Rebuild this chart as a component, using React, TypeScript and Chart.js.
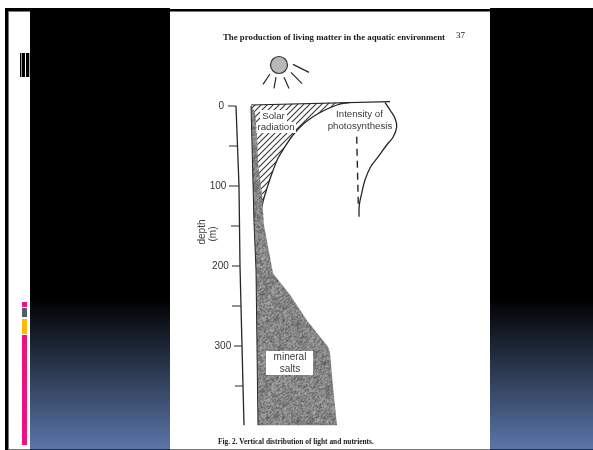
import React, { useEffect, useRef } from "react";
import { Chart, registerables } from "chart.js";

Chart.register(...registerables);

// Horizontal values are relative intensity units; depth is in metres.
const depthTicks = [0, 100, 200, 300];

const axisX = [-1, 2, 3, 5, 7];
const axisDepth = [0, 100, 200, 300, 399];

const majorDepth = [0, 100, 200, 300];
const majorFrom = [-9, -8, -5, -3];
const majorTo = [-1, 2, 3, 5];
const minorDepth = [50, 150, 250, 350];
const minorFrom = [-8, -6, -5, -2];
const minorTo = [0.5, 2, 4, 6];

const surfaceX = [14, 153];
const surfaceDepth = [-1.25, -5.4];

const solarX = [14, 113, 100, 88, 76, 66, 56, 48, 41, 35, 30, 26, 23, 21];
const solarDepth = [-1.25, -4.6, -1.25, 5, 13.4, 22.9, 36.25, 50.9, 65.4, 84.1, 102.9, 119.6, 140, 158];

const photoX = [148, 153, 158, 159.7, 156.3, 149.7, 141.3, 133.7, 128, 124.7, 122.3, 122];
const photoDepth = [-4.6, 5, 15.4, 25.9, 38.4, 48.75, 63.4, 75.9, 92.5, 109.1, 123.75, 138.4];

const photoDashX = [119.7, 121.3];
const photoDashDepth = [38.4, 124];

const mineralX = [14, 18, 20, 21, 25, 27, 36, 53, 70, 91, 93, 96, 100, 21, 19, 17];
const mineralDepth = [0, 7.5, 36, 70, 111, 149, 209, 236, 268, 301, 308, 351, 399, 399, 205, 146];

const bottleEdgeX = [14, 17, 19, 21];
const bottleEdgeDepth = [0, 146, 205, 399];

const sunX = [42];
const sunDepth = [-51.25];
const rayFromX = [56, 54, 47, 39, 33];
const rayFromDepth = [-52, -42, -36, -36, -40];
const rayToX = [72, 65, 52, 37, 26];
const rayToDepth = [-42, -28, -22, -22, -27];

const titleText = "The production of living matter in the aquatic environment";
const pageNumber = "37";
const captionText = "Fig. 2. Vertical distribution of light and nutrients.";

const xy = (xs: number[], ys: number[]) => xs.map((x, i) => ({ x, y: ys[i] }));
const segments = (ax: number[], ay: number[], bx: number[], by: number[]) =>
  ax.flatMap((x, i) => [
    { x, y: ay[i] },
    { x: bx[i], y: by[i] },
    { x: NaN, y: NaN },
  ]);

function hatchPattern(ctx: CanvasRenderingContext2D) {
  const c = document.createElement("canvas");
  c.width = 6;
  c.height = 6;
  const g = c.getContext("2d")!;
  g.fillStyle = "#fff";
  g.fillRect(0, 0, 6, 6);
  g.strokeStyle = "#3a3a3a";
  g.lineWidth = 1.15;
  g.beginPath();
  g.moveTo(-1, 7);
  g.lineTo(7, -1);
  g.moveTo(-1, 1);
  g.lineTo(1, -1);
  g.moveTo(5, 7);
  g.lineTo(7, 5);
  g.stroke();
  return ctx.createPattern(c, "repeat")!;
}

function stipplePattern(ctx: CanvasRenderingContext2D) {
  const size = 97;
  const c = document.createElement("canvas");
  c.width = size;
  c.height = size;
  const g = c.getContext("2d")!;
  const img = g.createImageData(size, size);
  const hash = (i: number, j: number) => {
    const s = Math.sin(i * 127.1 + j * 311.7) * 43758.5453;
    return s - Math.floor(s);
  };
  for (let j = 0; j < size; j++) {
    for (let i = 0; i < size; i++) {
      const fine = (hash(i, j) + hash(i + 1, j) + hash(i, j + 1)) / 3;
      const coarse = hash(Math.floor(i / 6), Math.floor(j / 5) + 50);
      const v = 82 + fine * 90 + coarse * 12;
      const o = (j * size + i) * 4;
      img.data[o] = v;
      img.data[o + 1] = v;
      img.data[o + 2] = v;
      img.data[o + 3] = 255;
    }
  }
  g.putImageData(img, 0, 0);
  return ctx.createPattern(c, "repeat")!;
}

const slidePlugin = {
  id: "slide",
  afterLayout(chart: any) {
    // The scanned axis leans slightly, so its labels drift right with depth.
    chart.scales.y.getLabelItems().forEach((item: any, i: number) => {
      item.options.translation[0] += depthTicks[i] * 0.024;
    });
  },
  beforeDraw(chart: any) {
    const c: CanvasRenderingContext2D = chart.ctx;
    c.save();
    c.fillStyle = "#fff";
    c.fillRect(0, 0, 593, 450);
    const grad = c.createLinearGradient(0, 298, 0, 449);
    grad.addColorStop(0, "#000");
    grad.addColorStop(1, "#5a75a8");
    c.fillStyle = grad;
    c.fillRect(30, 8, 140, 441);
    c.fillRect(490, 8, 103, 441);
    c.fillStyle = "#1f2f4a";
    c.fillRect(30, 449, 140, 1);
    c.fillRect(490, 449, 103, 1);
    c.fillStyle = "#000";
    c.fillRect(5, 8, 25, 3);
    c.fillRect(5, 8, 3, 442);
    c.fillRect(170, 9, 320, 2);
    c.fillStyle = "#777";
    c.fillRect(8, 11, 22, 1);
    c.fillRect(8, 11, 1, 439);
    c.fillRect(170, 11, 320, 1);
    c.fillRect(8, 449, 22, 1);
    c.fillRect(170, 449, 320, 1);
    c.fillStyle = "#000";
    c.fillRect(20, 53, 1.4, 24);
    c.fillRect(22, 53, 3, 24);
    c.fillRect(26, 53, 3.3, 24);
    c.fillStyle = "#ec1380";
    c.fillRect(22, 302, 5, 5);
    c.fillRect(22, 335, 5, 110);
    c.fillStyle = "#4e5d70";
    c.fillRect(22, 308, 5, 9);
    c.fillStyle = "#ffb900";
    c.fillRect(22, 319, 5, 15);
    c.restore();
  },
  afterDraw(chart: any) {
    const c: CanvasRenderingContext2D = chart.ctx;
    c.save();
    c.textBaseline = "middle";
    c.textAlign = "center";

    c.fillStyle = "#fff";
    c.fillRect(260, 110, 27, 13);
    c.fillRect(256.5, 122, 39.5, 11);
    c.fillRect(266, 351, 47, 24);

    c.fillStyle = "#3a3a3a";
    c.font = '9.7px "Liberation Sans"';
    c.fillText("Solar", 273.5, 116);
    c.fillText("radiation", 276, 127.5);
    c.fillText("Intensity of", 359.5, 114.5);
    c.fillText("photosynthesis", 360, 126.5);
    c.font = '10px "Liberation Sans"';
    c.fillText("mineral", 290, 357);
    c.fillText("salts", 290, 369);

    c.save();
    c.translate(202, 232);
    c.rotate(-Math.PI / 2);
    c.font = '10px "Liberation Sans"';
    c.fillText("depth", 0, 0);
    c.restore();
    c.save();
    c.translate(213, 234);
    c.rotate(-Math.PI / 2);
    c.font = '10px "Liberation Sans"';
    c.fillText("(m)", 0, 0);
    c.restore();

    c.textAlign = "left";
    c.fillStyle = "#1a1a1a";
    c.font = 'bold 8.8px "Liberation Serif"';
    c.fillText(titleText, 223, 38);
    c.font = '9px "Liberation Serif"';
    c.fillText(pageNumber, 456, 36);
    c.font = 'bold 7.4px "Liberation Serif"';
    c.fillText(captionText, 218, 442);
    c.restore();
  },
};

export default function App() {
  const ref = useRef<HTMLCanvasElement>(null);
  useEffect(() => {
    const canvas = ref.current!;
    const ctx = canvas.getContext("2d")!;
    const line = "#262626";
    const base = { clip: false as const, pointRadius: 0, tension: 0, fill: false };
    const chart = new Chart(canvas, {
      type: "line",
      plugins: [slidePlugin],
      data: {
        datasets: [
          {
            ...base,
            label: "Solar radiation",
            data: xy(solarX, solarDepth),
            backgroundColor: hatchPattern(ctx),
            borderWidth: 0,
            fill: "shape",
            order: 9,
          },
          {
            ...base,
            label: "Solar radiation limit",
            data: xy(solarX.slice(1), solarDepth.slice(1)),
            borderColor: line,
            borderWidth: 1.3,
            tension: 0.4,
            order: 8,
          },
          {
            ...base,
            label: "Mineral salts",
            data: xy(mineralX, mineralDepth),
            backgroundColor: stipplePattern(ctx),
            borderWidth: 0,
            fill: "shape",
            order: 7,
          },
          {
            ...base,
            label: "Bottle edge",
            data: xy(bottleEdgeX, bottleEdgeDepth),
            borderColor: line,
            borderWidth: 1,
            order: 6,
          },
          {
            ...base,
            label: "Surface",
            data: xy(surfaceX, surfaceDepth),
            borderColor: line,
            borderWidth: 1.2,
            order: 5,
          },
          {
            ...base,
            label: "Intensity of photosynthesis",
            data: xy(photoX, photoDepth),
            borderColor: line,
            borderWidth: 1.3,
            tension: 0.4,
            order: 4,
          },
          {
            ...base,
            label: "Photosynthesis dashed",
            data: xy(photoDashX, photoDashDepth),
            borderColor: line,
            borderWidth: 1.4,
            borderDash: [7, 5],
            order: 3,
          },
          {
            ...base,
            label: "Depth axis",
            data: xy(axisX, axisDepth),
            borderColor: line,
            borderWidth: 1.3,
            order: 2,
          },
          {
            ...base,
            label: "Ticks",
            data: [
              ...segments(majorFrom, majorDepth, majorTo, majorDepth),
              ...segments(minorFrom, minorDepth, minorTo, minorDepth),
            ],
            borderColor: line,
            borderWidth: 1.2,
            spanGaps: false,
            order: 1,
          },
          {
            ...base,
            label: "Sun rays",
            data: segments(rayFromX, rayFromDepth, rayToX, rayToDepth),
            borderColor: line,
            borderWidth: 1.2,
            spanGaps: false,
            order: 1,
          },
          {
            ...base,
            label: "Sun",
            data: xy(sunX, sunDepth),
            showLine: false,
            pointRadius: 8.5,
            pointBackgroundColor: "#b8b8b8",
            pointBorderColor: "#333",
            pointBorderWidth: 1.2,
            order: 0,
          },
        ],
      } as any,
      options: {
        responsive: false,
        animation: false,
        layout: { padding: { left: 0, right: 103, top: 54, bottom: 24 } },
        plugins: { legend: { display: false }, tooltip: { enabled: false }, title: { display: false } },
        scales: {
          x: { type: "linear", min: 0, max: 253, display: false },
          y: {
            type: "linear",
            reverse: true,
            min: -65,
            max: 400,
            grid: { display: false, drawTicks: false },
            border: { display: false },
            afterFit(scale: any) {
              scale.width = 237;
            },
            afterBuildTicks(scale: any) {
              scale.ticks = depthTicks.map((value) => ({ value }));
            },
            ticks: {
              autoSkip: false,
              padding: 13,
              maxRotation: 0,
              color: "#333",
              font: { family: '"Liberation Sans"', size: 10 },
            },
          },
        },
      } as any,
    });
    return () => chart.destroy();
  }, []);
  return (
    <canvas
      ref={ref}
      width={593}
      height={450}
      style={{ position: "absolute", left: 0, top: 0, width: 593, height: 450, display: "block" }}
    />
  );
}
